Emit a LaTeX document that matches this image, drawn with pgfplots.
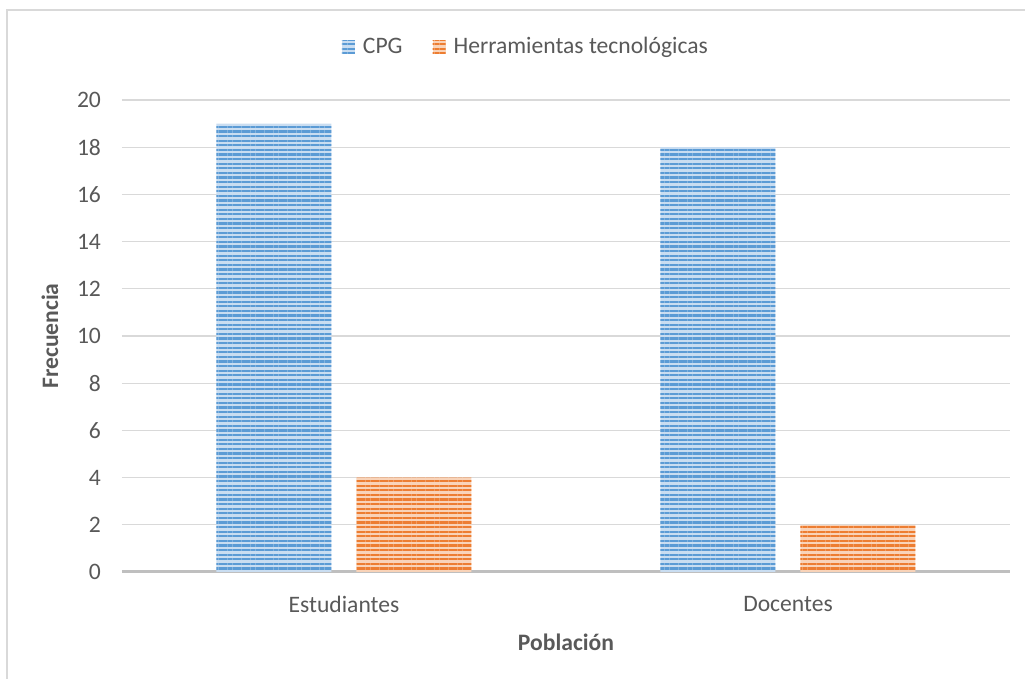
\documentclass[border=0pt]{standalone}
\usepackage{fontspec}
\setmainfont{Carlito}
\usepackage{pgfplots}
\pgfplotsset{compat=1.18}
\usetikzlibrary{patterns.meta}

\definecolor{cpgDark}{HTML}{5B9BD5}
\definecolor{cpgLight}{HTML}{C9DDF1}
\definecolor{herDark}{HTML}{ED7D31}
\definecolor{herLight}{HTML}{F9D3B8}
\definecolor{txt}{HTML}{595959}
\definecolor{gridc}{HTML}{D9D9D9}
\definecolor{axisc}{HTML}{BFBFBF}

\newcommand{\chartfont}{\fontsize{11.8}{14}\selectfont}

\begin{document}
\begin{tikzpicture}
% page = 1025x679 px at 0.5pt per px, axis box lower left at (0,0)
\path[use as bounding box] (-61pt,-53.5pt) rectangle (451.5pt,286pt);
\draw[gridc, line width=1pt] (-57.5pt,-60pt) -- (-57.5pt,281pt) -- (460pt,281pt);

\begin{axis}[
  scale only axis,
  width=444pt, height=236pt,
  ybar=12.5pt,
  bar width=57.5pt,
  xmin=-0.5, xmax=1.5,
  ymin=0, ymax=20,
  xtick={0,1},
  xticklabels={Estudiantes,Docentes},
  ytick={0,2,...,20},
  major tick length=0pt,
  axis x line*=bottom,
  axis y line*=left,
  x axis line style={draw=axisc, line width=1.5pt, -},
  y axis line style={draw=none},
  ymajorgrids,
  grid style={draw=gridc, line width=0.6pt},
  /pgf/number format/assume math mode=true,
  tick label style={font=\chartfont, text=txt},
  yticklabel style={xshift=-7pt},
  xticklabel style={anchor=center, yshift=-16pt},
  xlabel={Población},
  ylabel={Frecuencia},
  label style={font=\chartfont\bfseries, text=txt},
  xlabel style={at={(axis description cs:0.5,-0.1483)}, anchor=center},
  ylabel style={at={(axis description cs:-0.0811,0.5)}, anchor=center},
  legend style={at={(axis description cs:0.456,1.112)}, anchor=center,
    draw=none, fill=none, font=\chartfont, text=txt,
    legend columns=2,
    /tikz/every even column/.append style={column sep=13pt},
    legend cell align=left},
  legend image code/.code={
    \path[#1] (0pt,-3.25pt) rectangle (6.5pt,3.25pt);
    \path (8.5pt,0pt);
  },
]

\addplot[draw=none, fill=cpgLight,
  postaction={pattern={Lines[angle=0,distance=2.3pt,line width=1.1pt]}, pattern color=cpgDark}]
  coordinates {(0,19) (1,18)};
\addplot[draw=none, fill=herLight,
  postaction={pattern={Lines[angle=0,distance=2.3pt,line width=1.1pt]}, pattern color=herDark}]
  coordinates {(0,4) (1,2)};

\legend{CPG, Herramientas tecnológicas}
\end{axis}
\end{tikzpicture}
\end{document}
